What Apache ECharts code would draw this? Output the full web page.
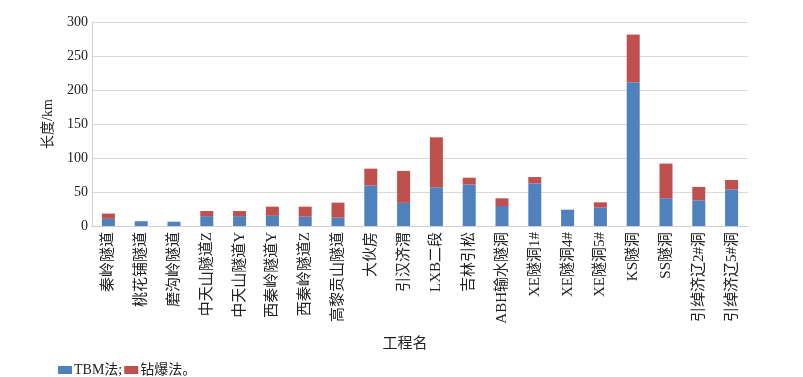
<!DOCTYPE html>
<html>
<head>
<meta charset="utf-8">
<script src="https://cdn.jsdelivr.net/npm/echarts@6/dist/echarts.min.js"></script>
<style>html,body{margin:0;padding:0;background:#fff;}#c{width:803px;height:377px;}</style>
</head>
<body>
<div id="c"></div>
<script>
const categories = ['秦岭隧道','桃花铺隧道','磨沟岭隧道','中天山隧道Z','中天山隧道Y','西秦岭隧道Y','西秦岭隧道Z','高黎贡山隧道','大伙房','引汉济渭','LXB二段','吉林引松','ABH输水隧洞','XE隧洞1#','XE隧洞4#','XE隧洞5#','KS隧洞','SS隧洞','引绰济辽2#洞','引绰济辽5#洞'];
const tbm   = [10.5, 7, 6.3, 14.5, 14.5, 15, 13.7, 12.3, 59.3, 34, 57, 61, 29.4, 62.7, 24, 27, 211.5, 40.9, 37.8, 53.9];
const drill = [7.8, 0, 0, 7.5, 7.5, 13.4, 14.7, 22, 25, 47, 73.4, 10, 11.3, 9.3, 0, 7.8, 70, 50.9, 19.6, 13.7];
const yTicks = [0, 50, 100, 150, 200, 250, 300];
const seriesNames = ['TBM法;', '钻爆法。'];

const serif = "'Liberation Serif','Noto Sans CJK SC',serif";
const chart = echarts.init(document.getElementById('c'));
chart.setOption({
  animation: false,
  backgroundColor: '#fff',
  grid: { left: 92, right: 55, top: 22, bottom: 151 },
  legend: {
    left: 53, top: 358, itemWidth: 14, itemHeight: 8, itemGap: 2,
    icon: 'rect',
    textStyle: { fontFamily: serif, fontSize: 14, color: '#222', padding: [0, 0, 0, -3] },
    data: seriesNames
  },
  xAxis: {
    type: 'category', data: categories,
    name: '工程名', nameLocation: 'middle', nameGap: 111,
    nameTextStyle: { fontFamily: serif, fontSize: 15, color: '#222', padding: [0, 30, 0, 0] },
    axisLine: { lineStyle: { color: '#d0d0d0' } },
    axisTick: { show: false },
    axisLabel: { rotate: 90, interval: 0, margin: 6, fontFamily: serif, fontSize: 15, color: '#222' }
  },
  yAxis: {
    type: 'value', min: yTicks[0], max: yTicks[yTicks.length-1], interval: 50,
    name: '长度/km', nameLocation: 'middle', nameGap: 37,
    nameTextStyle: { fontFamily: serif, fontSize: 14, color: '#222' },
    axisLine: { show: true, lineStyle: { color: '#d0d0d0' } },
    axisTick: { show: false },
    splitLine: { lineStyle: { color: '#d9d9d9' } },
    axisLabel: { margin: 4, fontFamily: serif, fontSize: 14, color: '#222' }
  },
  series: [
    { name: seriesNames[0], type: 'bar', stack: 'a', data: tbm, barWidth: 13, itemStyle: { color: '#4f81bd' } },
    { name: seriesNames[1], type: 'bar', stack: 'a', data: drill, barWidth: 13, itemStyle: { color: '#c0504d' } }
  ]
});
</script>
</body>
</html>
